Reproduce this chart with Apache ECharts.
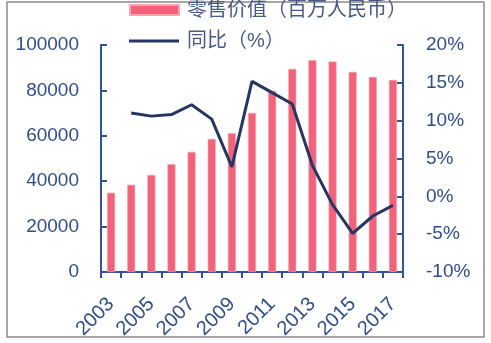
<!DOCTYPE html>
<html><head><meta charset="utf-8">
<script src="https://cdn.jsdelivr.net/npm/echarts@6/dist/echarts.min.js"></script>
<style>html,body{margin:0;padding:0;background:#fff}#c{width:491px;height:343px}</style>
</head><body><div id="c"></div>
<script>
const years = ['2003','2004','2005','2006','2007','2008','2009','2010','2011','2012','2013','2014','2015','2016','2017'];
const retailValue = [34900, 38400, 42700, 47500, 52900, 58600, 61200, 70100, 79800, 89500, 93300, 92700, 88100, 85900, 84600];
const yoyGrowth = [null, 11.0, 10.6, 10.8, 12.1, 10.2, 3.9, 15.2, 13.7, 12.2, 4.1, -1.1, -4.9, -2.6, -1.2];
const seriesNames = ['零售价值（百万人民币）', '同比（%）'];

const FONT = "'Liberation Sans', 'Noto Sans CJK SC', sans-serif";
const AXIS = '#2F5597';
const LBL = '#2E4D8C';
const chart = echarts.init(document.getElementById('c'));
chart.setOption({
  animation: false,
  backgroundColor: '#fff',
  graphic: [{type:'rect', shape:{x:7,y:2,width:477,height:335}, style:{fill:'none', stroke:'#8a8a8a', lineWidth:1.5}, silent:true, z:-1}],
  legend: [
    {data:[{name:seriesNames[0], icon:'rect'}], left:129, top:0, padding:0, itemWidth:49, itemHeight:10,
     textStyle:{fontFamily:FONT, fontSize:20, color:'#4A5A86', lineHeight:20, padding:[0,0,0,3]}},
    {data:[{name:seriesNames[1], icon:'rect'}], left:129, top:31, padding:0, itemWidth:50, itemHeight:3,
     itemStyle:{color:'#263663'},
     textStyle:{fontFamily:FONT, fontSize:20, color:'#4A5A86', lineHeight:20, padding:[0,0,0,3]}}
  ],
  grid: {left:101, right:88, top:45, bottom:71, containLabel:false},
  xAxis: {
    type:'category', data: years, boundaryGap:true,
    axisLine:{lineStyle:{color:AXIS, width:2}},
    axisTick:{show:true, inside:false, length:6, alignWithLabel:false, interval:0, lineStyle:{color:AXIS, width:2}},
    axisLabel:{interval:1, rotate:45, margin:29, color:LBL, fontFamily:FONT, fontSize:20}
  },
  yAxis: [
    {type:'value', min:0, max:100000, interval:20000, position:'left',
     axisLine:{show:true, lineStyle:{color:AXIS, width:2}},
     axisTick:{show:true, inside:true, length:6, lineStyle:{color:AXIS, width:2}},
     splitLine:{show:false},
     axisLabel:{margin:22, color:LBL, fontFamily:FONT, fontSize:19, formatter:function(v){return String(v);}}},
    {type:'value', min:-10, max:20, interval:5, position:'right',
     axisLine:{show:true, lineStyle:{color:AXIS, width:2}},
     axisTick:{show:true, inside:true, length:6, lineStyle:{color:AXIS, width:2}},
     splitLine:{show:false},
     axisLabel:{margin:23, color:LBL, fontFamily:FONT, fontSize:19, formatter:'{value}%'}}
  ],
  series: [
    {name:seriesNames[0], type:'bar', data:retailValue, barWidth:8, yAxisIndex:0,
     itemStyle:{color:'#F2627A', borderColor:'#F7A3B1', borderWidth:0.6}},
    {name:seriesNames[1], type:'line', data:yoyGrowth, yAxisIndex:1, symbol:'none', connectNulls:false,
     lineStyle:{color:'#263663', width:3}, itemStyle:{color:'#263663'}, z:3}
  ]
});
</script></body></html>
